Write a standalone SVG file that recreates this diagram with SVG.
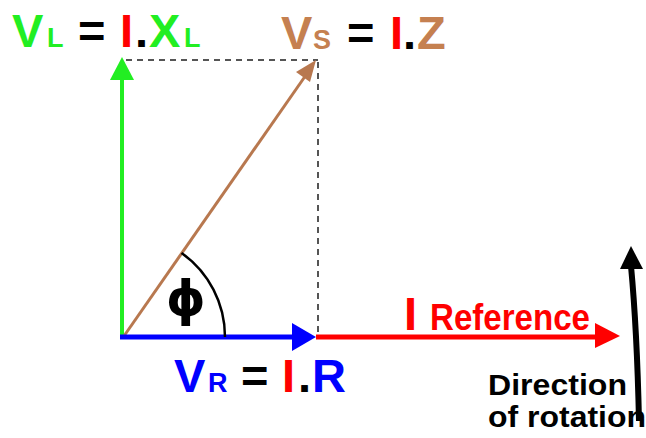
<svg xmlns="http://www.w3.org/2000/svg" width="646" height="438" viewBox="0 0 646 438">
<style>
text{font-family:"Liberation Sans",Arial,sans-serif;font-weight:bold}
.big{font-size:47px}
.sub{font-size:27px}
.g{fill:#22EE22}.r{fill:#FF0000}.b{fill:#0000FF}.k{fill:#000}.br{fill:#C58050}
.dash{stroke:#555;stroke-width:2;stroke-dasharray:6 5;fill:none}
</style>
<rect width="646" height="438" fill="#fff"/>
<g id="connectors">
  <line class="dash" x1="126" y1="60" x2="318" y2="60"/>
  <line class="dash" x1="318" y1="62" x2="318" y2="333"/>
  <line x1="122" y1="337" x2="122" y2="76" stroke="#22EE22" stroke-width="4"/>
  <polygon points="122,57 110,80 134,80" fill="#22EE22"/>
  <line x1="124" y1="336" x2="306" y2="75" stroke="#B8784F" stroke-width="3"/>
  <polygon points="316,60 296,72 303,77 310,82" fill="#B8784F"/>
  <line x1="316" y1="337" x2="598" y2="337" stroke="#FF0000" stroke-width="5"/>
  <polygon points="620,336 595,323 595,348" fill="#FF0000"/>
  <line x1="120" y1="337" x2="295" y2="337" stroke="#0000FF" stroke-width="5"/>
  <polygon points="316,337 292,323 292,351" fill="#0000FF"/>
  <path d="M181.5,252.9 A103,103 0 0 1 225,337" fill="none" stroke="#000" stroke-width="2.5"/>
  <path d="M639,421 Q637,330 631,266" fill="none" stroke="#000" stroke-width="6"/>
  <polygon points="631,246 620,269 643,269" fill="#000"/>
</g>
<g id="label-vl">
  <text class="big g" x="12" y="47">V</text>
  <text class="sub g" x="47" y="47">L</text>
  <text class="big k" x="78" y="47">=</text>
  <text class="big r" x="120" y="47">I</text>
  <text class="big k" x="135" y="47">.</text>
  <text class="big g" x="149" y="47">X</text>
  <text class="sub g" x="184" y="47">L</text>
</g>
<g id="label-vs">
  <text class="big br" x="281" y="49">V</text>
  <text class="sub br" x="313" y="49">S</text>
  <text class="big k" x="347" y="49">=</text>
  <text class="big r" x="390" y="49">I</text>
  <text class="big k" x="403" y="49">.</text>
  <text class="big br" x="417" y="49">Z</text>
</g>
<g id="label-vr">
  <text class="big b" x="174" y="392">V</text>
  <text class="sub b" x="208" y="392">R</text>
  <text class="big k" x="241" y="392">=</text>
  <text class="big r" x="282" y="392">I</text>
  <text class="big k" x="298" y="392">.</text>
  <text class="big b" x="312" y="392">R</text>
</g>
<g id="label-phi">
  <text class="k" x="186" y="316" font-size="50" text-anchor="middle" style="font-family:'DejaVu Sans',sans-serif">ϕ</text>
</g>
<g id="label-i">
  <text class="big r" x="404" y="330">I</text>
  <text class="r" x="430" y="330" font-size="36" textLength="160" lengthAdjust="spacingAndGlyphs">Reference</text>
</g>
<g id="label-rotation">
  <text class="k" x="488" y="395" font-size="29" textLength="139" lengthAdjust="spacingAndGlyphs">Direction</text>
  <text class="k" x="488" y="427" font-size="29" textLength="158" lengthAdjust="spacingAndGlyphs">of rotation</text>
</g>
</svg>
